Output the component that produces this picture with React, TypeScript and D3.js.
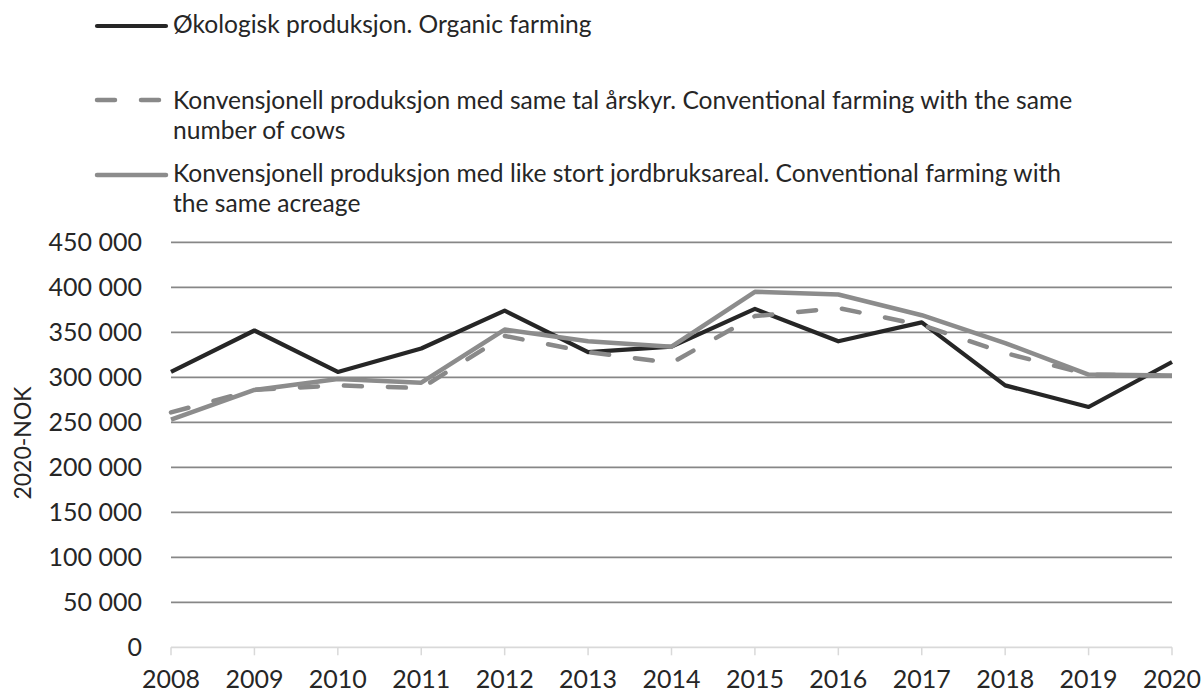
import React from "react";
import * as d3 from "d3";

const years = [2008, 2009, 2010, 2011, 2012, 2013, 2014, 2015, 2016, 2017, 2018, 2019, 2020];
const organic = [306000, 352000, 306000, 332000, 374000, 328000, 334000, 376000, 340000, 361000, 291000, 267000, 317000];
const sameCows = [261000, 286000, 291000, 288000, 346000, 328000, 316000, 368000, 377000, 358000, 327000, 303000, 302000];
const sameAcreage = [253000, 286000, 298000, 294000, 353000, 340000, 334000, 395000, 392000, 369000, 338000, 303000, 302000];
const yTicks = [0, 50000, 100000, 150000, 200000, 250000, 300000, 350000, 400000, 450000];
const legendLines = [
  ["Økologisk produksjon. Organic farming"],
  ["Konvensjonell produksjon med same tal årskyr. Conventional farming with the same", "number of cows"],
  ["Konvensjonell produksjon med like stort jordbruksareal. Conventional farming with", "the same acreage"],
];
const yTitle = "2020-NOK";

const W = 1201, H = 695;
const FONT = "Lato, 'Open Sans', sans-serif";

export default function App() {
  const x = d3.scaleLinear().domain([2008, 2020]).range([171, 1172]);
  const y = d3.scaleLinear().domain([0, 450000]).range([647.3, 242.3]);
  const line = d3.line<number>().x((_, i) => x(years[i])).y((d) => y(d));
  const fmt = (v: number) => d3.format(",")(v).replace(/,/g, " ");

  const series = [
    { data: organic, color: "#262626", width: 4.2, dash: undefined as string | undefined, cap: "butt" },
    { data: sameCows, color: "#898989", width: 4.5, dash: "18 26", cap: "round" },
    { data: sameAcreage, color: "#8c8c8c", width: 4.5, dash: undefined, cap: "butt" },
  ];
  const legendY = [[33], [109, 138.5], [182, 212]];
  const sampleY = [26, 100, 175];

  return (
    <svg width={W} height={H} style={{ position: "absolute", left: 0, top: 0 }} fontFamily={FONT}>
      <rect width={W} height={H} fill="#fff" />
      {/* legend */}
      {series.map((s, i) => (
        <g key={i}>
          <line x1={97} x2={166} y1={sampleY[i]} y2={sampleY[i]} stroke={s.color} strokeWidth={s.width}
            strokeDasharray={s.dash} strokeLinecap="round" />
          {legendLines[i].map((t, j) => (
            <text key={j} x={173} y={legendY[i][j]} fontSize={24.6} fill="#262626">{t}</text>
          ))}
        </g>
      ))}
      {/* gridlines */}
      {yTicks.map((t) => (
        <g key={t}>
          {t > 0 && <line x1={171} x2={1172} y1={y(t)} y2={y(t)} stroke="#878787" strokeWidth={1.7} />}
          <text x={142} y={y(t)} dy="0.36em" textAnchor="end" fontSize={25} fill="#262626">{fmt(t)}</text>
        </g>
      ))}
      {/* x axis */}
      <line x1={171} x2={1172} y1={y(0)} y2={y(0)} stroke="#d9d9d9" strokeWidth={1.7} />
      {years.map((yr) => (
        <g key={yr}>
          <line x1={x(yr)} x2={x(yr)} y1={y(0)} y2={y(0) + 8} stroke="#d9d9d9" strokeWidth={1.5} />
          <text x={x(yr)} y={688} textAnchor="middle" fontSize={25} fill="#262626">{yr}</text>
        </g>
      ))}
      <text transform="translate(31,443) rotate(-90)" textAnchor="middle" fontSize={23} fill="#262626">{yTitle}</text>
      {/* lines */}
      {series.map((s, i) => (
        <path key={i} d={line(s.data) || ""} fill="none" stroke={s.color} strokeWidth={s.width}
          strokeDasharray={s.dash} strokeLinecap={s.cap as any} strokeLinejoin="round" />
      ))}
    </svg>
  );
}
